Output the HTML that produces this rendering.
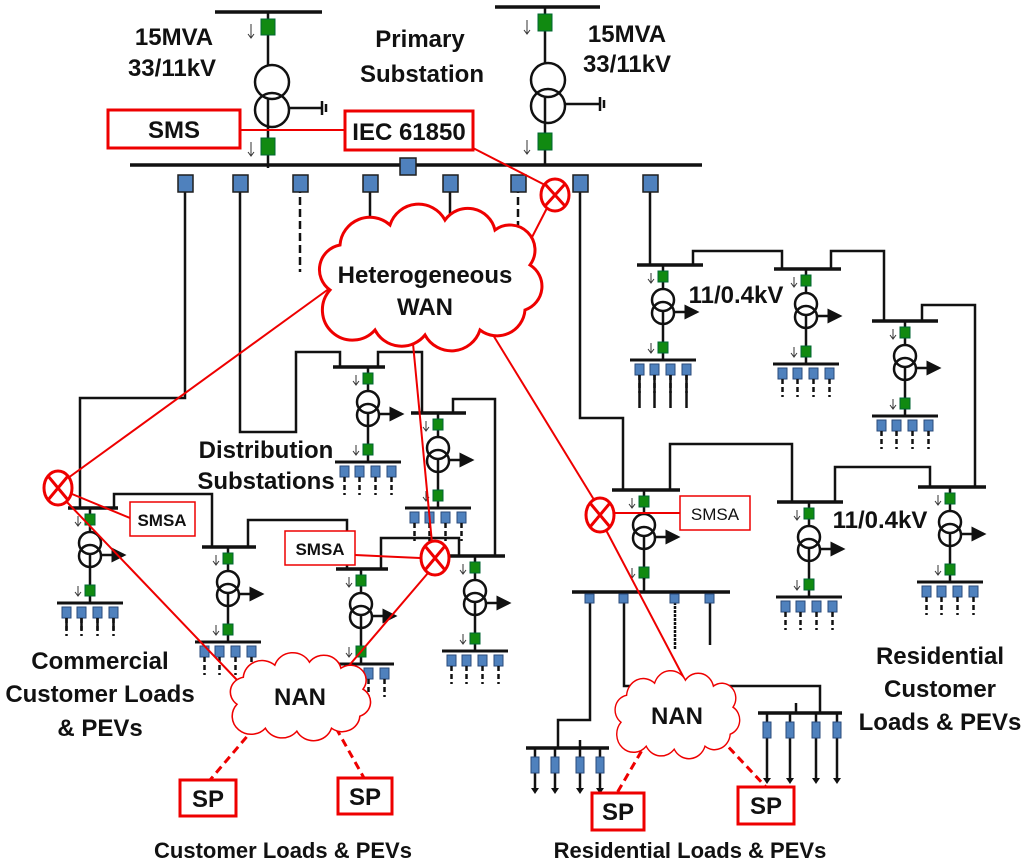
<!DOCTYPE html>
<html><head><meta charset="utf-8"><style>
html,body{margin:0;padding:0;background:#fff}
svg{display:block}
text{font-family:"Liberation Sans",sans-serif;font-weight:bold;fill:#111}
</style></head><body>
<svg width="1024" height="865" viewBox="0 0 1024 865" xmlns="http://www.w3.org/2000/svg">
<defs>
<marker id="ah" markerWidth="6" markerHeight="6" refX="5" refY="3" orient="auto"><path d="M0,0 L6,3 L0,6 z" fill="#111"/></marker>
<g id="sub">
 <line x1="0" y1="0" x2="0" y2="95" stroke="#111" stroke-width="2.5"/>
 <rect x="-5" y="6" width="10" height="11" fill="#118a11" stroke="#063" stroke-width="1"/>
 <line x1="-12" y1="8" x2="-12" y2="17" stroke="#333" stroke-width="1"/><path d="M-15,14 L-12,18 L-9,14" fill="none" stroke="#333" stroke-width="1"/>
 <circle cx="0" cy="35" r="11" fill="#fff" stroke="#111" stroke-width="2.5"/>
 <circle cx="0" cy="48" r="11" fill="none" stroke="#111" stroke-width="2.5"/>
 <line x1="10" y1="47" x2="34" y2="47" stroke="#111" stroke-width="2.5" marker-end="url(#ah)"/>
 <rect x="-5" y="77" width="10" height="11" fill="#118a11" stroke="#063" stroke-width="1"/>
 <line x1="-12" y1="78" x2="-12" y2="87" stroke="#333" stroke-width="1"/><path d="M-15,84 L-12,88 L-9,84" fill="none" stroke="#333" stroke-width="1"/>
 <line x1="-33" y1="95" x2="33" y2="95" stroke="#111" stroke-width="3"/>
 <g fill="#4f81bd" stroke="#2a4a7a" stroke-width="1">
  <rect x="-28" y="99" width="9" height="11"/><rect x="-13" y="99" width="9" height="11"/><rect x="3" y="99" width="9" height="11"/><rect x="19" y="99" width="9" height="11"/>
 </g>
 <g stroke="#111" stroke-width="2.5" stroke-dasharray="5,3">
  <line x1="-23.5" y1="110" x2="-23.5" y2="128"/><line x1="-8.5" y1="110" x2="-8.5" y2="128"/><line x1="7.5" y1="110" x2="7.5" y2="128"/><line x1="23.5" y1="110" x2="23.5" y2="128"/>
 </g>
</g>
<path id="cloud" d="M330,290 a25,25 0 0 1 10,-45 a30,30 0 0 1 50,-20 a30,30 0 0 1 55,-5 a28,28 0 0 1 50,10 a25,25 0 0 1 35,35 a25,25 0 0 1 -5,45 a28,28 0 0 1 -45,20 a30,30 0 0 1 -55,5 a30,30 0 0 1 -50,-5 a25,25 0 0 1 -45,-40 z"/>
</defs>

<!-- Primary substation -->
<g stroke="#111" stroke-width="3.5" fill="none">
 <line x1="215" y1="12" x2="322" y2="12"/>
 <line x1="495" y1="7" x2="600" y2="7"/>
 <line x1="130" y1="165" x2="702" y2="165"/>
</g>
<g stroke="#111" stroke-width="2.5" fill="none">
 <line x1="268" y1="12" x2="268" y2="168"/>
 <line x1="545" y1="7" x2="545" y2="165"/>
 <circle cx="272" cy="82" r="17" fill="#fff"/><circle cx="272" cy="110" r="17"/>
 <circle cx="548" cy="80" r="17" fill="#fff"/><circle cx="548" cy="106" r="17"/>
 <line x1="289" y1="108" x2="322" y2="108"/><line x1="322" y1="101" x2="322" y2="115"/><line x1="326" y1="104" x2="326" y2="112"/>
 <line x1="565" y1="104" x2="600" y2="104"/><line x1="600" y1="97" x2="600" y2="111"/><line x1="604" y1="100" x2="604" y2="108"/>
</g>
<g fill="#118a11" stroke="#063">
 <rect x="261" y="19" width="14" height="16"/><rect x="261" y="138" width="14" height="17"/>
 <rect x="538" y="14" width="14" height="17"/><rect x="538" y="133" width="14" height="17"/>
</g>
<g stroke="#333" stroke-width="1" fill="none">
 <path d="M251,24 v14 M248,34 l3,4 l3,-4"/><path d="M251,142 v14 M248,152 l3,4 l3,-4"/>
 <path d="M527,20 v14 M524,30 l3,4 l3,-4"/><path d="M527,140 v14 M524,150 l3,4 l3,-4"/>
</g>

<!-- feeders -->
<g stroke="#111" stroke-width="2.5" fill="none">
 <path d="M185,175 V398 H80 V508"/>
 <path d="M240,175 V432 H296 V352 H340 V367"/>
 <path d="M370,175 V250"/><path d="M450,175 V250"/>
 <path d="M580,175 V418 H623 V490"/>
 <path d="M650,175 V265"/>
 <path d="M693,265 V251 H782 V269"/>
 <path d="M831,269 V251 H884 V321"/>
 <path d="M922,321 V305 H975 V487"/>
 <path d="M670,490 V444 H792 V502"/>
 <path d="M835,502 V467 H930 V487"/>
 <path d="M378,367 V352 H422 V413"/>
 <path d="M453,413 V399 H495 V556"/>
 <path d="M114,508 V494 H212 V547"/>
 <path d="M248,547 V520 H347 V569"/>
 <path d="M381,569 V538 H459 V556"/>
</g>
<g stroke="#111" stroke-width="2.5" stroke-dasharray="8,4" fill="none">
 <line x1="300" y1="185" x2="300" y2="272"/><line x1="518" y1="185" x2="518" y2="272"/>
</g>
<g fill="#4f81bd" stroke="#1f1f1f" stroke-width="1.5">
 <rect x="178" y="175" width="15" height="17"/><rect x="233" y="175" width="15" height="17"/>
 <rect x="293" y="175" width="15" height="17"/><rect x="363" y="175" width="15" height="17"/>
 <rect x="443" y="175" width="15" height="17"/><rect x="511" y="175" width="15" height="17"/>
 <rect x="573" y="175" width="15" height="17"/><rect x="643" y="175" width="15" height="17"/>
 <rect x="400" y="158" width="16" height="17"/>
</g>

<!-- distribution subs: top buses -->
<g stroke="#111" stroke-width="3.5">
 <line x1="637" y1="265" x2="703" y2="265"/><line x1="774" y1="269" x2="841" y2="269"/>
 <line x1="872" y1="321" x2="938" y2="321"/><line x1="333" y1="367" x2="385" y2="367"/>
 <line x1="411" y1="413" x2="466" y2="413"/><line x1="68" y1="508" x2="118" y2="508"/>
 <line x1="202" y1="547" x2="256" y2="547"/><line x1="336" y1="569" x2="388" y2="569"/>
 <line x1="450" y1="556" x2="505" y2="556"/><line x1="612" y1="490" x2="680" y2="490"/>
 <line x1="777" y1="502" x2="843" y2="502"/><line x1="918" y1="487" x2="986" y2="487"/>
</g>
<use href="#sub" x="663" y="265"/><use href="#sub" x="806" y="269"/><use href="#sub" x="905" y="321"/>
<use href="#sub" x="368" y="367"/><use href="#sub" x="438" y="413"/><use href="#sub" x="90" y="508"/>
<use href="#sub" x="228" y="547"/><use href="#sub" x="361" y="569"/><use href="#sub" x="475" y="556"/>
<use href="#sub" x="644" y="490"/><use href="#sub" x="809" y="502"/><use href="#sub" x="950" y="487"/>
<!-- solid long legs overlay -->
<g stroke="#111" stroke-width="2.5"><line x1="639.5" y1="375" x2="639.5" y2="408"/><line x1="654.5" y1="375" x2="654.5" y2="408"/><line x1="670.5" y1="375" x2="670.5" y2="408"/><line x1="686.5" y1="375" x2="686.5" y2="408"/>
<line x1="66.5" y1="618" x2="66.5" y2="630"/><line x1="81.5" y1="618" x2="81.5" y2="630"/><line x1="97.5" y1="618" x2="97.5" y2="630"/><line x1="113.5" y1="618" x2="113.5" y2="630"/></g>
<!-- J big bus override -->
<rect x="570" y="580" width="165" height="40" fill="#fff"/>
<g stroke="#111" stroke-width="2.5" fill="none">
 <line x1="644" y1="578" x2="644" y2="592"/>
 <line x1="572" y1="592" x2="730" y2="592" stroke-width="3.5"/>
 <path d="M590,598 V720 H558 V748"/>
 <path d="M624,598 V686 H820 V713"/>
 <line x1="675" y1="598" x2="675" y2="650" stroke-dasharray="3,1"/><line x1="710" y1="598" x2="710" y2="645"/>
 <line x1="526" y1="748" x2="609" y2="748" stroke-width="3.5"/>
 <line x1="758" y1="713" x2="842" y2="713" stroke-width="3.5"/>
 <line x1="580" y1="740" x2="580" y2="748"/><line x1="796" y1="703" x2="796" y2="713"/>
 <path d="M535,748 V790 M555,748 V790 M580,748 V790 M600,748 V790"/>
 <path d="M767,713 V780 M790,713 V780 M816,713 V780 M837,713 V780"/>
</g>
<g fill="#4f81bd" stroke="#2a4a7a">
 <rect x="585" y="594" width="9" height="9"/><rect x="619" y="594" width="9" height="9"/><rect x="670" y="594" width="9" height="9"/><rect x="705" y="594" width="9" height="9"/>
 <rect x="531" y="757" width="8" height="16"/><rect x="551" y="757" width="8" height="16"/><rect x="576" y="757" width="8" height="16"/><rect x="596" y="757" width="8" height="16"/>
 <rect x="763" y="722" width="8" height="16"/><rect x="786" y="722" width="8" height="16"/><rect x="812" y="722" width="8" height="16"/><rect x="833" y="722" width="8" height="16"/>
</g>
<g fill="#111"><path d="M531,788 h8 l-4,6z M551,788 h8 l-4,6z M576,788 h8 l-4,6z M596,788 h8 l-4,6z M763,778 h8 l-4,6z M786,778 h8 l-4,6z M812,778 h8 l-4,6z M833,778 h8 l-4,6z"/></g>

<!-- red comms -->
<g stroke="#e00" stroke-width="2" fill="none">
 <line x1="240" y1="130" x2="345" y2="130"/>
 <line x1="473" y1="148" x2="545" y2="185"/>
 <line x1="547" y1="208" x2="528" y2="245"/>
 <line x1="330" y1="288" x2="68" y2="478"/>
 <line x1="412" y1="333" x2="432" y2="543"/>
 <line x1="490" y1="330" x2="596" y2="503"/>
 <line x1="72" y1="494" x2="130" y2="518"/>
 <line x1="65" y1="500" x2="237" y2="680"/>
 <line x1="420" y1="558" x2="355" y2="555"/>
 <line x1="428" y1="573" x2="335" y2="682"/>
 <line x1="614" y1="513" x2="680" y2="513"/>
 <line x1="606" y1="530" x2="686" y2="682"/>
</g>
<g stroke="#e00" stroke-width="3" fill="#fff">
 <rect x="108" y="110" width="132" height="38"/><rect x="345" y="111" width="128" height="39"/>
 <rect x="180" y="780" width="56" height="36"/><rect x="338" y="778" width="54" height="36"/>
 <rect x="592" y="793" width="52" height="37"/><rect x="738" y="787" width="56" height="37"/>
</g>
<g stroke="#e00" stroke-width="1.5" fill="#fff">
 <rect x="130" y="502" width="65" height="34"/><rect x="285" y="531" width="70" height="34"/><rect x="680" y="496" width="70" height="34"/>
</g>
<g stroke="#e00" stroke-width="3" fill="#fff">
 <ellipse cx="555" cy="195" rx="14" ry="16"/><ellipse cx="58" cy="488" rx="14" ry="17"/>
 <ellipse cx="435" cy="558" rx="14" ry="17"/><ellipse cx="600" cy="515" rx="14" ry="17"/>
</g>
<g stroke="#e00" stroke-width="3">
 <path d="M545,184 L565,206 M565,184 L545,206"/><path d="M48,476 L68,500 M68,476 L48,500"/>
 <path d="M425,546 L445,570 M445,546 L425,570"/><path d="M590,503 L610,527 M610,503 L590,527"/>
</g>
<g stroke="#e00" stroke-width="3" stroke-dasharray="8,5" fill="none">
 <line x1="255" y1="727" x2="210" y2="780"/><line x1="336" y1="728" x2="364" y2="778"/>
 <line x1="648" y1="740" x2="617" y2="793"/><line x1="720" y1="738" x2="766" y2="787"/>
</g>
<use href="#cloud" fill="#fff" stroke="#e00" stroke-width="3"/>
<g transform="translate(300,697) scale(0.63,0.6) translate(-430,-278)"><use href="#cloud" fill="#fff" stroke="#e00" stroke-width="2.5" vector-effect="non-scaling-stroke"/></g>
<g transform="translate(677,715) scale(0.56,0.6) translate(-430,-278)"><use href="#cloud" fill="#fff" stroke="#e00" stroke-width="2.5" vector-effect="non-scaling-stroke"/></g>

<!-- text -->
<g font-size="24" text-anchor="middle">
 <text x="174" y="45">15MVA</text><text x="172" y="76">33/11kV</text>
 <text x="420" y="47">Primary</text><text x="422" y="82">Substation</text>
 <text x="627" y="42">15MVA</text><text x="627" y="72">33/11kV</text>
 <text x="174" y="138">SMS</text><text x="409" y="140">IEC 61850</text>
 <text x="425" y="283">Heterogeneous</text><text x="425" y="315">WAN</text>
 <text x="736" y="303">11/0.4kV</text><text x="880" y="528">11/0.4kV</text>
 <text x="266" y="458">Distribution</text><text x="266" y="489">Substations</text>
 <text x="100" y="669">Commercial</text><text x="100" y="702">Customer Loads</text><text x="100" y="736">&amp; PEVs</text>
 <text x="940" y="664">Residential</text><text x="940" y="697">Customer</text><text x="940" y="730">Loads &amp; PEVs</text>
 <text x="300" y="705">NAN</text><text x="677" y="724">NAN</text>
 <text x="208" y="807">SP</text><text x="365" y="805">SP</text><text x="618" y="820">SP</text><text x="766" y="814">SP</text>
</g>
<g font-size="22" text-anchor="middle">
 <text x="283" y="858">Customer Loads &amp; PEVs</text><text x="690" y="858">Residential Loads &amp; PEVs</text>
</g>
<g font-size="17" text-anchor="middle">
 <text x="162" y="526">SMSA</text><text x="320" y="555">SMSA</text><text x="715" y="520" style="font-weight:normal">SMSA</text>
</g>
</svg>
</body></html>
